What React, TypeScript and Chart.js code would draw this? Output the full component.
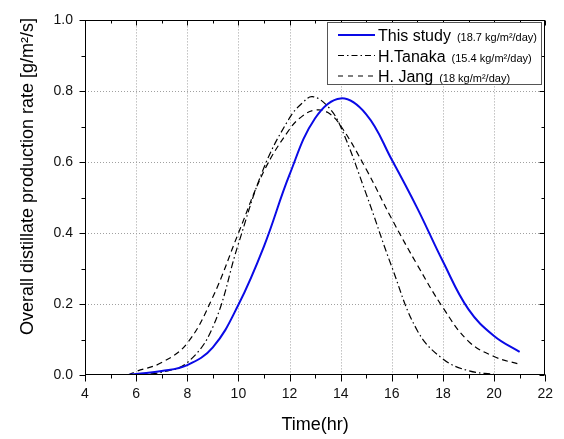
import React, { useEffect, useRef } from 'react';
import { Chart, registerables } from 'chart.js';

Chart.register(...registerables);

// ---- data ----
const studyX = [5.7, 6, 7, 8, 9, 10, 11, 12, 13, 14, 15, 16, 17, 18, 19, 20, 21];
const studyY = [0, 0.003, 0.011, 0.028, 0.078, 0.198, 0.363, 0.565, 0.724, 0.78, 0.735, 0.607, 0.47, 0.32, 0.185, 0.11, 0.065];

const tanakaX = [6.0, 7, 8, 9, 10, 11, 12, 12.5, 12.9, 13.5, 14, 15, 16, 17, 18, 19, 20];
const tanakaY = [0, 0.008, 0.035, 0.135, 0.37, 0.585, 0.725, 0.767, 0.785, 0.757, 0.7, 0.51, 0.305, 0.125, 0.045, 0.012, 0.002];

const jangX = [5.7, 6, 7, 8, 9, 10, 11, 12, 12.5, 13, 13.5, 14, 15, 16, 17, 18, 19, 20, 21];
const jangY = [0, 0.01, 0.035, 0.09, 0.22, 0.4, 0.575, 0.693, 0.73, 0.747, 0.74, 0.703, 0.58, 0.44, 0.31, 0.19, 0.095, 0.052, 0.03];

const xTicks = [4, 6, 8, 10, 12, 14, 16, 18, 20, 22];
const yTicks = [0, 0.2, 0.4, 0.6, 0.8, 1.0];
const xMinorStep = 1;
const yMinorStep = 0.1;

const seriesNames = ['This study', 'H.Tanaka', 'H. Jang'];
const seriesNotes = ['(18.7 kg/m\u00B2/day)', '(15.4 kg/m\u00B2/day)', '(18 kg/m\u00B2/day)'];
const xTitle = 'Time(hr)';
const yTitle = 'Overall distillate production rate [g/m\u00B2/s]';

const FONT = 'Arial, "Liberation Sans", sans-serif';
const BLUE = '#0a0ae6';
const DASHDOT = [7, 3, 1.5, 3];
const DASHED = [6, 4];

const zip = (xs: number[], ys: number[]) => xs.map((x, i) => ({ x, y: ys[i] }));

const decorPlugin = {
  id: 'decor',
  beforeDatasetsDraw(chart: any) {
    const { ctx, chartArea: a, scales } = chart;
    ctx.save();
    ctx.strokeStyle = '#a0a0a0';
    ctx.lineWidth = 1;
    ctx.setLineDash([1, 2]);
    xTicks.forEach((v) => {
      const px = Math.round(scales.x.getPixelForValue(v)) + 0.5;
      if (v === xTicks[0] || v === xTicks[xTicks.length - 1]) return;
      ctx.beginPath();
      ctx.moveTo(px, a.top);
      ctx.lineTo(px, a.bottom);
      ctx.stroke();
    });
    yTicks.forEach((v) => {
      const py = Math.round(scales.y.getPixelForValue(v)) + 0.5;
      if (v === yTicks[0] || v === yTicks[yTicks.length - 1]) return;
      ctx.beginPath();
      ctx.moveTo(a.left, py);
      ctx.lineTo(a.right, py);
      ctx.stroke();
    });
    ctx.restore();
  },
  afterDatasetsDraw(chart: any) {
    const { ctx, chartArea: a, scales } = chart;
    ctx.save();
    ctx.setLineDash([]);
    ctx.strokeStyle = '#000';
    ctx.lineWidth = 1;
    const L = Math.round(a.left) + 0.5;
    const R = Math.round(a.right) - 0.5;
    const T = Math.round(a.top) + 0.5;
    const B = Math.round(a.bottom) - 0.5;
    ctx.strokeRect(L, T, R - L, B - T);

    const xmin = scales.x.min, xmax = scales.x.max;
    for (let i = 0; xmin + i * xMinorStep <= xmax + 1e-9; i++) {
      const v = xmin + i * xMinorStep;
      const major = xTicks.some((t) => Math.abs(t - v) < 1e-9);
      const px = Math.round(scales.x.getPixelForValue(v)) + 0.5;
      ctx.beginPath();
      ctx.moveTo(px, B);
      ctx.lineTo(px, B + (major ? 7 : 4));
      ctx.moveTo(px, T);
      ctx.lineTo(px, T + (major ? 5 : 3));
      ctx.stroke();
    }
    const ymin = scales.y.min, ymax = scales.y.max;
    for (let i = 0; ymin + i * yMinorStep <= ymax + 1e-9; i++) {
      const v = ymin + i * yMinorStep;
      const major = yTicks.some((t) => Math.abs(t - v) < 1e-9);
      const py = Math.round(scales.y.getPixelForValue(v)) + 0.5;
      ctx.beginPath();
      ctx.moveTo(L, py);
      ctx.lineTo(L - (major ? 6 : 4), py);
      ctx.moveTo(R, py);
      ctx.lineTo(R - (major ? 5 : 3), py);
      ctx.stroke();
    }

    // legend
    const bx = 327.5, by = 22.5, bw = 214, bh = 62;
    ctx.fillStyle = '#fff';
    ctx.fillRect(bx, by, bw, bh);
    ctx.strokeStyle = '#555';
    ctx.strokeRect(bx, by, bw, bh);
    const baselines = [40.5, 61.5, 82];
    const lineYs = [35, 55.5, 76];
    const styles = [
      { color: BLUE, width: 2, dash: [] as number[] },
      { color: '#000', width: 1.2, dash: [6, 3, 1.5, 3] },
      { color: '#000', width: 1.2, dash: [5, 5] },
    ];
    seriesNames.forEach((name, i) => {
      const s = styles[i];
      ctx.save();
      ctx.strokeStyle = s.color;
      ctx.lineWidth = s.width;
      ctx.setLineDash(s.dash);
      ctx.beginPath();
      ctx.moveTo(338, lineYs[i]);
      ctx.lineTo(375, lineYs[i]);
      ctx.stroke();
      ctx.restore();
      ctx.fillStyle = '#000';
      ctx.textAlign = 'left';
      ctx.textBaseline = 'alphabetic';
      ctx.font = '16px ' + FONT;
      ctx.fillText(name, 378, baselines[i]);
      const w = ctx.measureText(name).width;
      ctx.font = '11px ' + FONT;
      ctx.fillText(seriesNotes[i], 378 + w + 6, baselines[i]);
    });

    // axis titles
    ctx.fillStyle = '#000';
    ctx.font = '18px ' + FONT;
    ctx.textAlign = 'center';
    ctx.textBaseline = 'alphabetic';
    ctx.fillText(xTitle, (a.left + a.right) / 2, 430);
    ctx.save();
    ctx.translate(33, 176.5);
    ctx.rotate(-Math.PI / 2);
    ctx.fillText(yTitle, 0, 0);
    ctx.restore();
    ctx.restore();
  },
};

export default function App() {
  const ref = useRef<HTMLCanvasElement | null>(null);
  useEffect(() => {
    if (!ref.current) return;
    const common = { pointRadius: 0, fill: false, tension: 0.4, cubicInterpolationMode: 'default' };
    const chart = new Chart(ref.current, {
      type: 'line',
      data: {
        datasets: [
          { ...common, label: seriesNames[0], data: zip(studyX, studyY), borderColor: BLUE, borderWidth: 2 },
          { ...common, label: seriesNames[1], data: zip(tanakaX, tanakaY), borderColor: '#000', borderWidth: 1.2, borderDash: DASHDOT },
          { ...common, label: seriesNames[2], data: zip(jangX, jangY), borderColor: '#000', borderWidth: 1.2, borderDash: DASHED },
        ],
      },
      options: {
        animation: false,
        responsive: false,
        devicePixelRatio: 1,
        layout: { padding: { top: 12, right: 16, left: 0, bottom: 0 } },
        plugins: { legend: { display: false }, tooltip: { enabled: false } },
        scales: {
          x: {
            type: 'linear',
            min: 4,
            max: 22,
            afterBuildTicks: (s: any) => {
              s.ticks = xTicks.map((v) => ({ value: v }));
            },
            afterFit: (s: any) => {
              s.height = 64;
            },
            ticks: {
              autoSkip: false,
              maxRotation: 0,
              padding: 11,
              color: '#111',
              font: { family: FONT, size: 14 },
              callback: (v: any) => String(v),
            },
            grid: { display: false, drawTicks: false },
            border: { display: false },
          },
          y: {
            type: 'linear',
            min: 0,
            max: 1,
            afterBuildTicks: (s: any) => {
              s.ticks = yTicks.map((v) => ({ value: v }));
            },
            afterFit: (s: any) => {
              s.width = 85;
            },
            ticks: {
              padding: 12,
              color: '#111',
              font: { family: FONT, size: 14 },
              callback: (v: any) => Number(v).toFixed(1),
            },
            grid: { display: false, drawTicks: false },
            border: { display: false },
          },
        },
      } as any,
      plugins: [decorPlugin],
    });
    return () => chart.destroy();
  }, []);
  return (
    <div style={{ position: 'absolute', left: 0, top: 0, width: 564, height: 439, background: '#fff' }}>
      <canvas ref={ref} width={564} height={439} />
    </div>
  );
}
